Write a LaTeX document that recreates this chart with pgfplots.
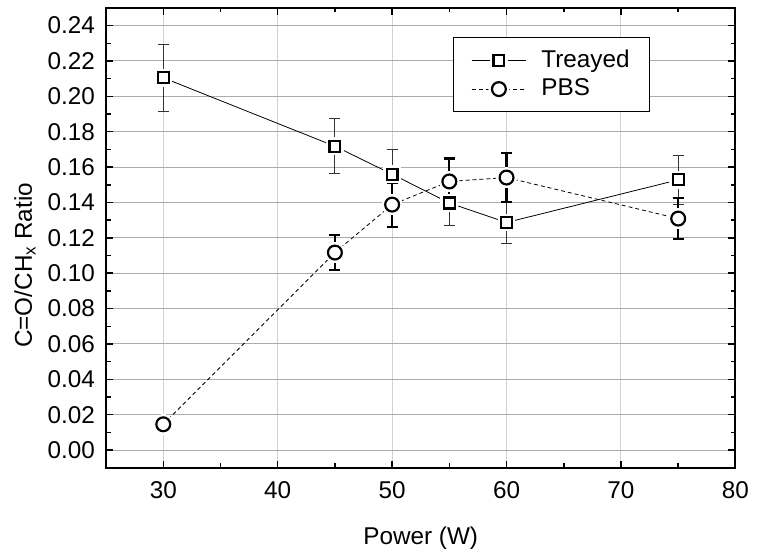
\documentclass[border=0pt]{standalone}
\usepackage{fontspec}
\setmainfont{Liberation Sans}
\usepackage{pgfplots}
\usepackage{pgfplotstable}
\pgfplotsset{compat=1.18}
\pgfplotstableread{
x y e
30 0.2105 0.019
45 0.1718 0.0155
50 0.1560 0.0140
55 0.1397 0.0125
60 0.1287 0.0120
75 0.1528 0.0137
}\treayed
\pgfplotstableread{
x y e
30 0.0146 0.0010
45 0.1117 0.0100
50 0.1388 0.0125
55 0.1519 0.0130
60 0.1541 0.0138
75 0.1309 0.0117
}\pbs
\pgfplotstableread{
x y e
30 0.0146 0.0010
}\pbsfirst
\newcommand{\fs}{\fontsize{24.5bp}{29bp}\selectfont}
\begin{document}
\fs
\begin{tikzpicture}
\begin{axis}[
  scale only axis,
  width=635bp, height=464bp,
  xmin=25, xmax=80, ymin=-0.01, ymax=0.25,
  xtick={30,40,50,60,70,80},
  minor xtick={25,35,45,55,65,75},
  ytick={0,0.02,...,0.241},
  minor ytick={-0.01,0.01,...,0.25},
  /pgf/number format/assume math mode=true,
  yticklabel style={/pgf/number format/.cd,fixed,fixed zerofill,precision=2},
  xticklabel style={/pgf/number format/.cd,fixed},
  scaled y ticks=false,
  tick label style={font=\fs},
  label style={font=\fs},
  xticklabel shift=5bp,
  yticklabel shift=3bp,
  tick align=inside,
  ticks=both,
  xtick pos=both, ytick pos=both,
  major tick length=7bp, minor tick length=4.5bp,
  every tick/.style={black, line width=1.5bp},
  axis line style={line width=2bp},
  grid=major,
  x grid style={gray!35, line width=1bp},
  y grid style={gray!65, line width=1bp},
  xlabel={Power (W)},
  ylabel={C=O/CH\textsubscript{x} Ratio},
  xlabel style={at={(axis description cs:0.5,0)}, anchor=center, yshift=-71bp},
  ylabel style={at={(axis description cs:-0.129,0.44)}, anchor=center, rotate=0},
  legend style={at={(axis description cs:0.551,0.9375)}, anchor=north west,
    draw=black, line width=1.2bp, font=\fs,
    inner xsep=18bp, inner ysep=10.5bp, row sep=4bp, cells={anchor=west},
    /tikz/every odd column/.append style={column sep=13bp}},
]
% legend images
\addlegendimage{legend image code/.code={
  \draw[black, line width=0.8bp] (0bp,0bp) -- (55bp,0bp);
  \fill[white] (27.5bp,0bp) +(-8.5bp,-8.5bp) rectangle +(8.5bp,8.5bp);
  \draw[black, line width=2.2bp, fill=white] (27.5bp,0bp) +(-5.5bp,-5.5bp) rectangle +(5.5bp,5.5bp);
}}
\addlegendentry{Treayed\hspace{18bp}}
\addlegendimage{legend image code/.code={
  \draw[black, line width=0.8bp, dash pattern=on 4bp off 3bp] (0bp,0bp) -- (55bp,0bp);
  \fill[white] (27.5bp,0bp) circle[radius=10bp];
  \draw[black, line width=2.2bp, fill=white] (27.5bp,0bp) circle[radius=7bp];
}}
\addlegendentry{PBS}
% connecting lines
\addplot[black, line width=0.8bp, no marks, forget plot] table[x=x,y=y] {\treayed};
\addplot[black, line width=0.8bp, dash pattern=on 4bp off 3bp, no marks, forget plot] table[x=x,y=y] {\pbs};
% white halos for the gaps
\addplot[white, only marks, mark=square*, mark size=8.5bp, mark options={fill=white, draw=white, line width=0bp}, forget plot] table[x=x,y=y] {\treayed};
\addplot[white, only marks, mark=*, mark size=10bp, mark options={fill=white, draw=white, line width=0bp}, forget plot] table[x=x,y=y] {\pbs};
% error bars
\addplot[draw=none, mark=none, forget plot,
  error bars/.cd, y dir=both, y explicit,
  error bar style={draw=black!80, line width=1bp, solid},
  error mark options={rotate=90, mark size=5.5bp, line width=1bp, draw=black!80}]
  table[x=x, y=y, y error=e] {\treayed};
\addplot[draw=none, mark=none, forget plot,
  error bars/.cd, y dir=both, y explicit,
  error bar style={draw=black, line width=2.2bp, solid},
  error mark options={rotate=90, mark size=5.5bp, line width=2.2bp, draw=black}]
  table[x=x, y=y, y error=e] {\pbs};
% markers
\addplot[black, only marks, mark=square*, mark size=5.5bp,
  mark options={fill=white, draw=black, line width=2.2bp, solid}, forget plot]
  table[x=x,y=y] {\treayed};
\addplot[black, only marks, mark=*, mark size=7bp,
  mark options={fill=white, draw=black, line width=2.2bp, solid}, forget plot]
  table[x=x,y=y] {\pbs};
% small error bar drawn over the first PBS marker
\addplot[draw=none, mark=none, forget plot,
  error bars/.cd, y dir=both, y explicit,
  error bar style={draw=black, line width=2.2bp, solid},
  error mark options={rotate=90, mark size=5bp, line width=2.2bp, draw=black}]
  table[x=x, y=y, y error=e] {\pbsfirst};
\end{axis}
\path ([shift={(-107bp,-78bp)}]current axis.south west) rectangle ([shift={(15bp,8bp)}]current axis.north east);
\end{tikzpicture}
\end{document}
